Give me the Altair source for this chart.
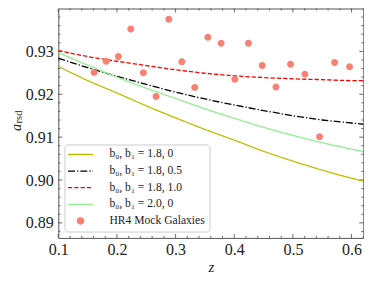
import altair as alt
import pandas as pd

# ---------------- data ----------------
z_grid = [0.10, 0.15, 0.20, 0.25, 0.30, 0.35, 0.40, 0.45, 0.50, 0.55, 0.60, 0.62]
a_b18_0 = [0.9265, 0.9232, 0.9203, 0.9173, 0.9145, 0.9118, 0.9093, 0.9067, 0.9044, 0.9023, 0.9004, 0.8997]
a_b18_05 = [0.9284, 0.9262, 0.9242, 0.9223, 0.9205, 0.9189, 0.9175, 0.9162, 0.9150, 0.9140, 0.9133, 0.9130]
a_b18_10 = [0.9302, 0.9288, 0.9277, 0.9267, 0.9257, 0.9249, 0.9243, 0.9239, 0.9236, 0.9234, 0.9232, 0.9232]
a_b20_0 = [0.9297, 0.9268, 0.9240, 0.9214, 0.9190, 0.9166, 0.9144, 0.9123, 0.9104, 0.9087, 0.9072, 0.9066]

gal_z = [0.161, 0.1815, 0.2024, 0.2235, 0.245, 0.2667, 0.2884, 0.3106, 0.3327, 0.355,
         0.3776, 0.401, 0.4242, 0.4476, 0.471, 0.4959, 0.5205, 0.5454, 0.571, 0.5966]
gal_a = [0.9251, 0.9277, 0.9288, 0.9352, 0.9250, 0.9195, 0.9375, 0.9276, 0.9216, 0.9333,
         0.9319, 0.9235, 0.9319, 0.9267, 0.9217, 0.9270, 0.9247, 0.9101, 0.9274, 0.9264]

series_names = ["b\u2080, b\u2081 = 1.8, 0", "b\u2080, b\u2081 = 1.8, 0.5",
                "b\u2080, b\u2081 = 1.8, 1.0", "b\u2080, b\u2081 = 2.0, 0",
                "HR4 Mock Galaxies"]
series_colors = ["#bfbf00", "#000000", "#ff0000", "#90ee90", "#fa8072"]
series_dash = [[1, 0], [7, 2, 1.3, 2], [4.3, 2], [1, 0], [1, 0]]
series_shape = ["M-2.5,0H2.5", "M-2.5,0H2.5", "M-2.5,0H2.5", "M-2.5,0H2.5",
                "M-0.62,0A0.62,0.62 0 1,0 0.62,0A0.62,0.62 0 1,0 -0.62,0Z"]

x_major = [0.1, 0.2, 0.3, 0.4, 0.5, 0.6]
x_minor = [0.12, 0.14, 0.16, 0.18, 0.22, 0.24, 0.26, 0.28, 0.32, 0.34, 0.36, 0.38,
           0.42, 0.44, 0.46, 0.48, 0.52, 0.54, 0.56, 0.58, 0.62]
y_major = [0.89, 0.90, 0.91, 0.92, 0.93]
y_minor = [0.888, 0.892, 0.894, 0.896, 0.898, 0.902, 0.904, 0.906, 0.908,
           0.912, 0.914, 0.916, 0.918, 0.922, 0.924, 0.926, 0.928,
           0.932, 0.934, 0.936, 0.938]

# ---------------- tables ----------------
line_series = [a_b18_0, a_b18_05, a_b18_10, a_b20_0]
rows = []
for name, vals in zip(series_names[:4], line_series):
    for z, a in zip(z_grid, vals):
        rows.append({"z": z, "a": a, "series": name})
line_df = pd.DataFrame(rows)
gal_df = pd.DataFrame({"z": gal_z, "a": gal_a, "series": series_names[4]})

FONT = "Liberation Serif"
W, H = 305, 229.4
TC = "#444444"

XS = alt.Scale(domain=[0.1, 0.62], nice=False, zero=False)
YS = alt.Scale(domain=[0.8865, 0.94], nice=False, zero=False)
XA = alt.Axis(title="z", values=x_major, format=".1f", ticks=False, tickSize=0, domain=False,
              grid=False, labelFont=FONT, labelFontSize=16, labelPadding=4, labelFlush=False,
              labelColor="#222", titleFont=FONT, titleFontStyle="italic", titleFontSize=15,
              titleFontWeight="normal", titlePadding=2, titleColor="#222")
YA = alt.Axis(title=None, values=y_major, format=".2f", ticks=False, tickSize=0, domain=False,
              grid=False, labelFont=FONT, labelFontSize=16, labelPadding=5, labelColor="#222")

CS = alt.Scale(domain=series_names, range=series_colors)
DS = alt.Scale(domain=series_names, range=series_dash)
SS = alt.Scale(domain=series_names, range=series_shape)

LEG = alt.Legend(title=None, orient="none", legendX=6.2, legendY=136,
                 fillColor="rgba(255,255,255,0.8)", strokeColor="#cccccc", cornerRadius=3,
                 padding=4, rowPadding=4.6, symbolSize=100, symbolStrokeWidth=1.3,
                 symbolOffset=6, labelOffset=23, labelFont=FONT, labelFontSize=11.6,
                 labelColor="#222", labelLimit=300)

lines = alt.Chart(line_df).mark_line(strokeWidth=1.3, interpolate="monotone", clip=True).encode(
    x=alt.X("z:Q", scale=XS, axis=XA),
    y=alt.Y("a:Q", scale=YS, axis=YA),
    color=alt.Color("series:N", scale=CS, legend=LEG),
    strokeDash=alt.StrokeDash("series:N", scale=DS, legend=LEG),
)

points = alt.Chart(gal_df).mark_point(filled=True, size=125, opacity=1).encode(
    x=alt.X("z:Q", scale=XS, axis=XA),
    y=alt.Y("a:Q", scale=YS, axis=YA),
    color=alt.Color("series:N", scale=CS, legend=LEG),
    shape=alt.Shape("series:N", scale=SS, legend=LEG),
)


def xticks(vals, length, top):
    df = pd.DataFrame({"t": vals})
    y0 = 0 if top else H
    y1 = length if top else H - length
    return alt.Chart(df).mark_rule(color=TC, strokeWidth=0.8).encode(
        x=alt.X("t:Q", scale=XS, axis=XA), y=alt.value(y0), y2=alt.value(y1))


def yticks(vals, length, left):
    df = pd.DataFrame({"t": vals})
    x0 = 0 if left else W
    x1 = length if left else W - length
    return alt.Chart(df).mark_rule(color=TC, strokeWidth=0.8).encode(
        y=alt.Y("t:Q", scale=YS, axis=YA), x=alt.value(x0), x2=alt.value(x1))


tick_layers = [
    xticks(x_major, 4, True), xticks(x_major, 4, False),
    xticks(x_minor, 2, True), xticks(x_minor, 2, False),
    yticks(y_major, 4, True), yticks(y_major, 4, False),
    yticks(y_minor, 2, True), yticks(y_minor, 2, False),
]

ytitle_a = alt.Chart(pd.DataFrame({"t": ["a"]})).mark_text(
    font=FONT, fontSize=14, fontStyle="italic", angle=270, align="center",
    baseline="alphabetic", color="#222").encode(
    text="t:N", x=alt.value(-37.4), y=alt.value(119))
ytitle_sub = alt.Chart(pd.DataFrame({"t": ["rsd"]})).mark_text(
    font=FONT, fontSize=10.5, angle=270, align="center",
    baseline="alphabetic", color="#222").encode(
    text="t:N", x=alt.value(-36.4), y=alt.value(108.5))

chart = alt.layer(*tick_layers, lines, points, ytitle_a, ytitle_sub).properties(
    width=W, height=H,
    padding={"left": 50.3, "top": 0.5, "right": 1, "bottom": 37},
    autosize=alt.AutoSizeParams(type="none"),
).configure_view(stroke="#555555", strokeWidth=1)

chart.save("out.html", embed_options={"renderer": "svg", "actions": False})
